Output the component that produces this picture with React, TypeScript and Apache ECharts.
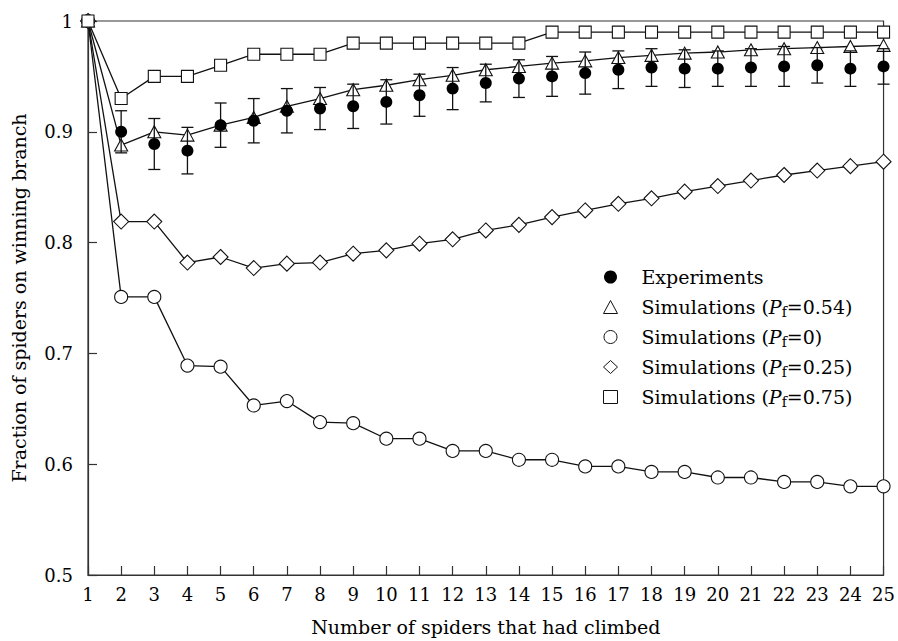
import React, { useEffect, useRef } from "react";
import * as echarts from "echarts";

const spiders = [1, 2, 3, 4, 5, 6, 7, 8, 9, 10, 11, 12, 13, 14, 15, 16, 17, 18, 19, 20, 21, 22, 23, 24, 25];
const experiments = [1.0, 0.900, 0.889, 0.883, 0.906, 0.910, 0.919, 0.921, 0.923, 0.927, 0.933, 0.939, 0.944, 0.948, 0.950, 0.953, 0.956, 0.958, 0.957, 0.957, 0.958, 0.959, 0.960, 0.957, 0.959];
const experimentErr = [0, 0.019, 0.023, 0.021, 0.020, 0.020, 0.020, 0.019, 0.020, 0.020, 0.019, 0.019, 0.017, 0.017, 0.018, 0.019, 0.017, 0.017, 0.017, 0.016, 0.017, 0.018, 0.016, 0.016, 0.016];
const sim054 = [1.0, 0.888, 0.900, 0.897, 0.906, 0.913, 0.923, 0.930, 0.938, 0.942, 0.947, 0.951, 0.956, 0.959, 0.962, 0.964, 0.967, 0.969, 0.971, 0.972, 0.974, 0.975, 0.976, 0.977, 0.978];
const sim0 = [1.0, 0.751, 0.751, 0.689, 0.688, 0.653, 0.657, 0.638, 0.637, 0.623, 0.623, 0.612, 0.612, 0.604, 0.604, 0.598, 0.598, 0.593, 0.593, 0.588, 0.588, 0.584, 0.584, 0.580, 0.580];
const sim025 = [1.0, 0.819, 0.819, 0.782, 0.787, 0.777, 0.781, 0.782, 0.790, 0.793, 0.799, 0.803, 0.811, 0.816, 0.823, 0.829, 0.835, 0.840, 0.846, 0.851, 0.856, 0.861, 0.865, 0.869, 0.873];
const sim075 = [1.0, 0.93, 0.95, 0.95, 0.96, 0.97, 0.97, 0.97, 0.98, 0.98, 0.98, 0.98, 0.98, 0.98, 0.99, 0.99, 0.99, 0.99, 0.99, 0.99, 0.99, 0.99, 0.99, 0.99, 0.99];
const seriesNames = [
  "Experiments",
  "Simulations (Pf=0.54)",
  "Simulations (Pf=0)",
  "Simulations (Pf=0.25)",
  "Simulations (Pf=0.75)",
];
const xAxisTitle = "Number of spiders that had climbed";
const yAxisTitle = "Fraction of spiders on winning branch";

const FONT = "DejaVu Serif";
const INK = "#000";

export default function App() {
  const ref = useRef<HTMLDivElement>(null);
  useEffect(() => {
    if (!ref.current) return;
    const chart = echarts.init(ref.current, undefined, { renderer: "svg" });
    const pairs = (ys: number[]) => spiders.map((s, i) => [s, ys[i]]);
    const lineStyle = { color: "#111", width: 1.3 };
    const hollow = { color: "#fff", borderColor: "#111", borderWidth: 1.1, opacity: 1 };
    const errData = spiders
      .map((s, i) => [s, experiments[i] - experimentErr[i], experiments[i] + experimentErr[i]])
      .filter((_, i) => experimentErr[i] > 0);

    const option: any = {
      animation: false,
      backgroundColor: "#fff",
      textStyle: { fontFamily: FONT },
      grid: {
        left: 88,
        right: 13,
        top: 21,
        bottom: 63,
        show: true,
        borderColor: "#333",
        borderWidth: 1.2,
        backgroundColor: "transparent",
      },
      legend: {
        orient: "vertical",
        left: 598,
        top: 260,
        itemWidth: 14,
        itemHeight: 13,
        itemGap: 6,
        selectedMode: false,
        data: [
          { name: seriesNames[0], icon: "circle", itemStyle: { color: "#000", borderWidth: 0, opacity: 1 } },
          { name: seriesNames[1], icon: "triangle", itemStyle: { color: "#fff", borderColor: "#111", borderWidth: 1 } },
          { name: seriesNames[2], icon: "circle", itemStyle: { color: "#fff", borderColor: "#111", borderWidth: 1 } },
          { name: seriesNames[3], icon: "diamond", itemStyle: { color: "#fff", borderColor: "#111", borderWidth: 1 } },
          { name: seriesNames[4], icon: "rect", itemStyle: { color: "#fff", borderColor: "#111", borderWidth: 1 } },
        ],
        formatter: (name: string) => name.replace(/\(Pf=([^)]*)\)/, "({i|P}{sub|f}=$1)"),
        textStyle: {
          fontFamily: FONT,
          fontSize: 19,
          color: INK,
          lineHeight: 24,
          padding: [0, 0, 0, 19],
          rich: {
            i: { fontFamily: FONT, fontStyle: "italic", fontSize: 19, color: INK, lineHeight: 24 },
            sub: { fontFamily: FONT, fontSize: 14, color: INK, lineHeight: 13, verticalAlign: "bottom" },
          },
        },
      },
      xAxis: {
        type: "value",
        min: 1,
        max: 25,
        interval: 1,
        name: xAxisTitle,
        nameLocation: "middle",
        nameGap: 42,
        nameTextStyle: { fontFamily: FONT, fontSize: 19, color: INK },
        axisLine: { show: true, lineStyle: { color: "#333", width: 1.2 } },
        axisTick: { show: true, inside: true, length: 9, lineStyle: { color: "#333", width: 1.2 } },
        axisLabel: { fontFamily: FONT, fontSize: 18, color: INK, margin: 10 },
        splitLine: { show: false },
      },
      yAxis: {
        type: "value",
        min: 0.5,
        max: 1,
        interval: 0.1,
        name: yAxisTitle,
        nameLocation: "middle",
        nameGap: 60,
        nameTextStyle: { fontFamily: FONT, fontSize: 19, color: INK },
        axisLine: { show: true, lineStyle: { color: "#333", width: 1.2 } },
        axisTick: { show: true, inside: true, length: 9, lineStyle: { color: "#333", width: 1.2 } },
        axisLabel: {
          fontFamily: FONT,
          fontSize: 18,
          color: INK,
          margin: 15,
          formatter: (v: number) => (Math.abs(v - 1) < 1e-9 ? "1" : v.toFixed(1)),
        },
        splitLine: { show: false },
      },
      series: [
        {
          name: seriesNames[1],
          type: "line",
          data: pairs(sim054),
          symbol: "triangle",
          symbolSize: [13, 12],
          lineStyle,
          itemStyle: hollow,
          clip: false,
          z: 2,
        },
        {
          name: seriesNames[2],
          type: "line",
          data: pairs(sim0),
          symbol: "circle",
          symbolSize: 13,
          lineStyle,
          itemStyle: hollow,
          clip: false,
          z: 2,
        },
        {
          name: seriesNames[3],
          type: "line",
          data: pairs(sim025),
          symbol: "diamond",
          symbolSize: 15,
          lineStyle,
          itemStyle: hollow,
          clip: false,
          z: 2,
        },
        {
          name: "errorbars",
          type: "custom",
          data: errData,
          encode: { x: 0, y: [1, 2] },
          z: 3,
          clip: false,
          renderItem: (params: any, api: any) => {
            const x = api.value(0);
            const lo = api.coord([x, api.value(1)]);
            const hi = api.coord([x, api.value(2)]);
            const w = 6;
            const st = { stroke: "#111", lineWidth: 1.3 };
            return {
              type: "group",
              children: [
                { type: "line", shape: { x1: lo[0], y1: lo[1], x2: hi[0], y2: hi[1] }, style: st },
                { type: "line", shape: { x1: lo[0] - w, y1: lo[1], x2: lo[0] + w, y2: lo[1] }, style: st },
                { type: "line", shape: { x1: hi[0] - w, y1: hi[1], x2: hi[0] + w, y2: hi[1] }, style: st },
              ],
            };
          },
        },
        {
          name: seriesNames[0],
          type: "scatter",
          data: pairs(experiments),
          symbol: "circle",
          symbolSize: 12,
          itemStyle: { color: "#000", opacity: 1 },
          clip: false,
          z: 4,
        },
        {
          name: seriesNames[4],
          type: "line",
          data: pairs(sim075),
          symbol: "rect",
          symbolSize: 12,
          lineStyle,
          itemStyle: hollow,
          clip: false,
          z: 5,
        },
      ],
    };
    chart.setOption(option);
    return () => chart.dispose();
  }, []);
  return (
    <div
      ref={ref}
      style={{ position: "fixed", left: 0, top: 0, width: 898, height: 641, background: "#fff" }}
    />
  );
}
